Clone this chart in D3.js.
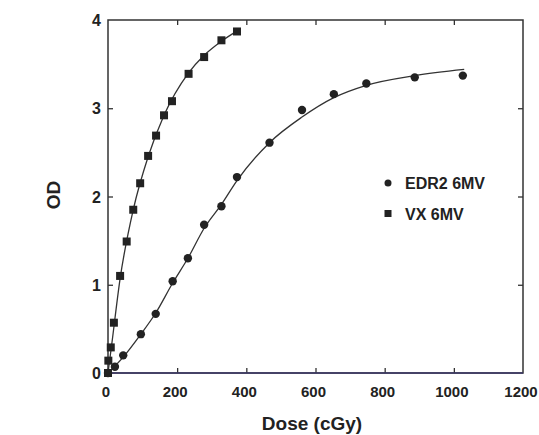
<!DOCTYPE html>
<html>
<head>
<meta charset="utf-8">
<script src="https://cdn.jsdelivr.net/npm/d3@7"></script>
<style>
  body { margin: 0; background: #fff; }
  svg { display: block; font-family: "Liberation Sans", Arial, sans-serif; }
</style>
</head>
<body>
<div id="chart"></div>
<script>
// measured points
const doseVX = [0, 1, 8, 17, 35, 54, 73, 93, 116, 139, 162, 185, 233, 278, 328, 373]
const odVX = [0, 0.14, 0.29, 0.57, 1.10, 1.49, 1.85, 2.15, 2.46, 2.69, 2.92, 3.08, 3.39, 3.58, 3.77, 3.87]
const doseEDR2 = [0, 20, 44, 95, 138, 187, 231, 278, 328, 373, 467, 561, 653, 747, 887, 1026]
const odEDR2 = [0, 0.07, 0.20, 0.44, 0.67, 1.04, 1.30, 1.68, 1.89, 2.22, 2.61, 2.98, 3.16, 3.28, 3.35, 3.37]

// fitted curves
const fitDoseVX = [0, 10, 35, 73, 116, 162, 233, 278, 328, 375]
const fitOdVX = [0, 0.3, 1.07, 1.85, 2.45, 2.92, 3.40, 3.60, 3.76, 3.88]
const fitDoseEDR2 = [0, 44, 95, 138, 187, 231, 278, 328, 373, 467, 561, 653, 747, 887, 1030]
const fitOdEDR2 = [0, 0.18, 0.44, 0.68, 1.02, 1.30, 1.64, 1.91, 2.18, 2.61, 2.90, 3.12, 3.26, 3.37, 3.44]

const xTicks = [0, 200, 400, 600, 800, 1000, 1200]
const yTicks = [0, 1, 2, 3, 4]
const seriesNames = ['EDR2 6MV', 'VX 6MV']

const width = 539, height = 435
const plotL = 108, plotR = 523, plotT = 20, plotB = 373
const ink = '#222'

const svg = d3.select('#chart').append('svg')
  .attr('width', width).attr('height', height)

const x = d3.scaleLinear().domain([0, 1200]).range([plotL, plotR])
const y = d3.scaleLinear().domain([0, 4]).range([plotB, plotT])

// inward ticks on all four sides
const innerX = xTicks.slice(1, -1)
const innerY = yTicks.slice(1, -1)

svg.append('g').attr('transform', `translate(0,${plotB})`)
  .call(d3.axisBottom(x).tickValues(innerX).tickSizeInner(-5).tickSizeOuter(0).tickFormat(''))
svg.append('g').attr('transform', `translate(0,${plotT})`)
  .call(d3.axisTop(x).tickValues(innerX).tickSizeInner(-5).tickSizeOuter(0).tickFormat(''))
svg.append('g').attr('transform', `translate(${plotL},0)`)
  .call(d3.axisLeft(y).tickValues(innerY).tickSizeInner(-5).tickSizeOuter(0).tickFormat(''))
svg.append('g').attr('transform', `translate(${plotR},0)`)
  .call(d3.axisRight(y).tickValues(innerY).tickSizeInner(-5).tickSizeOuter(0).tickFormat(''))

svg.selectAll('.domain').remove()
svg.selectAll('.tick line').attr('stroke', ink).attr('stroke-width', 1.2)

// frame
svg.append('rect')
  .attr('x', plotL).attr('y', plotT)
  .attr('width', plotR - plotL).attr('height', plotB - plotT)
  .attr('fill', 'none').attr('stroke', '#333').attr('stroke-width', 1.5)
svg.append('line')
  .attr('x1', plotL).attr('x2', plotR).attr('y1', plotB).attr('y2', plotB)
  .attr('stroke', '#3d3868').attr('stroke-width', 1.6)

// tick labels
svg.append('g').selectAll('text').data(xTicks).enter().append('text')
  .attr('x', d => x(d) - 2).attr('y', 397)
  .attr('text-anchor', 'middle')
  .attr('font-size', 15).attr('font-weight', 'bold').attr('fill', ink)
  .text(d => d)

svg.append('g').selectAll('text').data(yTicks).enter().append('text')
  .attr('x', 101).attr('y', d => y(d) + 6)
  .attr('text-anchor', 'end')
  .attr('font-size', 16).attr('font-weight', 'bold').attr('fill', ink)
  .text(d => d)

// axis titles
svg.append('text')
  .attr('x', 312).attr('y', 430)
  .attr('text-anchor', 'middle')
  .attr('font-size', 19).attr('font-weight', 'bold').attr('fill', ink)
  .text('Dose (cGy)')

svg.append('text')
  .attr('transform', 'translate(60,195) rotate(-90)')
  .attr('text-anchor', 'middle')
  .attr('font-size', 19).attr('font-weight', 'bold').attr('fill', ink)
  .text('OD')

// fitted lines
const line = d3.line().x(d => x(d[0])).y(d => y(d[1])).curve(d3.curveMonotoneX)
svg.append('path')
  .attr('d', line(d3.zip(fitDoseEDR2, fitOdEDR2)))
  .attr('fill', 'none').attr('stroke', '#333').attr('stroke-width', 1.3)
svg.append('path')
  .attr('d', line(d3.zip(fitDoseVX, fitOdVX)))
  .attr('fill', 'none').attr('stroke', '#333').attr('stroke-width', 1.3)

// markers
svg.append('g').selectAll('circle').data(d3.zip(doseEDR2, odEDR2)).enter().append('circle')
  .attr('cx', d => x(d[0])).attr('cy', d => y(d[1])).attr('r', 4.2)
  .attr('fill', ink)

svg.append('g').selectAll('rect').data(d3.zip(doseVX, odVX)).enter().append('rect')
  .attr('x', d => x(d[0]) - 4).attr('y', d => y(d[1]) - 4)
  .attr('width', 8).attr('height', 8)
  .attr('fill', ink)

// legend
const legend = svg.append('g').attr('transform', 'translate(388,183)')
legend.append('circle').attr('cx', 0).attr('cy', 0).attr('r', 3.5).attr('fill', ink)
legend.append('rect').attr('x', -3.5).attr('y', 27).attr('width', 7).attr('height', 7).attr('fill', ink)
legend.selectAll('text').data(seriesNames).enter().append('text')
  .attr('x', 17).attr('y', (d, i) => 6 + i * 31)
  .attr('font-size', 16).attr('font-weight', 'bold').attr('fill', ink)
  .text(d => d)
</script>
</body>
</html>
